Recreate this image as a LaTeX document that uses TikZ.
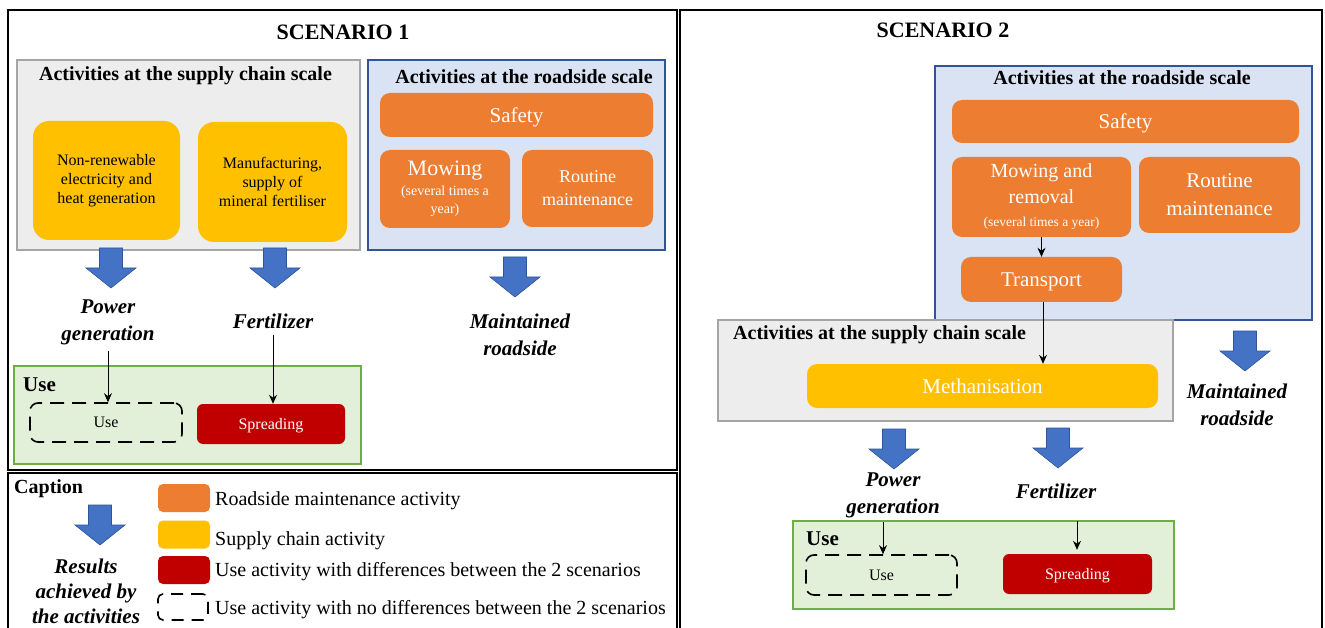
\documentclass[tikz,border=0pt]{standalone}
\usepackage{fontspec}
\setmainfont{Liberation Serif}
\usetikzlibrary{arrows.meta}
\definecolor{orng}{HTML}{ED7D31}
\definecolor{yell}{HTML}{FFC000}
\definecolor{redc}{HTML}{C00000}
\definecolor{grayf}{HTML}{EDEDED}
\definecolor{grayb}{HTML}{A5A5A5}
\definecolor{bluef}{HTML}{DAE3F3}
\definecolor{blueb}{HTML}{2F5597}
\definecolor{greenf}{HTML}{E2F0D9}
\definecolor{greenb}{HTML}{70AD47}
\definecolor{arrowblue}{HTML}{4472C4}
\definecolor{arrowdark}{HTML}{2F5597}
\tikzset{
  frame/.style={draw=black, line width=2pt},
  container/.style={inner sep=0pt, line width=1.5pt},
  scbox/.style={container, draw=grayb, fill=grayf},
  rsbox/.style={container, draw=blueb, fill=bluef},
  usebox/.style={container, draw=greenb, fill=greenf},
  orangebox/.style={fill=orng, rounded corners=10pt, text=white, inner sep=0pt, align=center},
  yellowbox/.style={fill=yell, rounded corners=16pt, text=black, inner sep=0pt, align=center, font=\fontsize{16}{19}\selectfont},
  redbox/.style={fill=redc, rounded corners=6pt, text=white, inner sep=0pt, text depth=0pt, font=\fontsize{16}{19}\selectfont},
  dashbox/.style={draw=black, dash pattern=on 14pt off 8pt, line width=1.6pt, rounded corners=8pt, inner sep=0pt, font=\fontsize{16}{19}\selectfont},
  boxtitle/.style={font=\bfseries\fontsize{20}{24}\selectfont, inner sep=0pt},
  scentitle/.style={font=\bfseries\fontsize{22}{26}\selectfont, inner sep=0pt},
  result/.style={font=\bfseries\itshape\fontsize{21}{27}\selectfont, align=center, inner sep=0pt},
  legendtext/.style={font=\fontsize{20}{24}\selectfont, anchor=base west, inner sep=0pt},
  thinarrow/.style={-{Stealth[length=9pt,width=8pt]}, line width=0.9pt},
  barrow/.pic={\filldraw[fill=arrowblue, draw=arrowdark, line width=0.6pt]
     (-11.5,0) -- (11.5,0) -- (11.5,20) -- (25,20) -- (0,40) -- (-25,20) -- (-11.5,20) -- cycle;}
}
\begin{document}
\begin{tikzpicture}[x=1pt,y=-1pt]
\useasboundingbox[fill=white] (0,0) rectangle (1325,628);
% frames
\draw[frame] (8,10) rectangle (677,470);
\draw[frame] (8,473) rectangle (677,640);
\draw[frame] (680,10) rectangle (1322,640);

% ---------------- SCENARIO 1 ----------------
\node[scentitle] (t1) at (343,32) {SCENARIO 1};
\node[scbox, minimum width=343pt, minimum height=190pt] (sc1) at (188.5,155) {};
\node[boxtitle] (sc1t) at (185.5,76) {Activities at the supply chain scale};
\node[yellowbox, minimum width=147pt, minimum height=119pt] (y1a) at (106.5,180.5)
  {Non-renewable\\electricity and\\heat generation};
\node[yellowbox, minimum width=149pt, minimum height=120pt] (y1b) at (272.5,182)
  {Manufacturing,\\supply of\\mineral fertiliser};

\node[rsbox, minimum width=297pt, minimum height=190pt] (rs1) at (516.5,155) {};
\node[boxtitle] (rs1t) at (524,77) {Activities at the roadside scale};
\node[orangebox, minimum width=273pt, minimum height=44pt, text depth=0pt, font=\fontsize{21}{24}\selectfont] (saf1) at (516.5,115) {Safety};
\node[orangebox, minimum width=130pt, minimum height=78pt, font=\fontsize{14}{18}\selectfont] (mow1) at (445,189)
  {{\fontsize{22}{22}\selectfont Mowing}\\[2pt](several times a\\year)};
\node[orangebox, minimum width=131pt, minimum height=77pt, font=\fontsize{18}{23}\selectfont] (rout1) at (587.5,188.5)
  {Routine\\maintenance};

\pic (ba1) at (111,248) {barrow};
\pic (ba2) at (275,248) {barrow};
\pic (ba3) at (515,257) {barrow};

\node[result] (pg1) at (108,322) {Power\\generation};
\node[result] (fe1) at (273,321) {Fertilizer};
\node[result] (mr1) at (520,335) {Maintained\\roadside};

\node[usebox, minimum width=347pt, minimum height=98pt] (use1) at (187.5,415) {};
\node[font=\bfseries\fontsize{21}{24}\selectfont, anchor=west, inner sep=0pt] (use1t) at (23,385) {Use};
\node[dashbox, minimum width=152pt, minimum height=39pt, text depth=0pt] (du1) at (106,422.5) {Use};
\node[redbox, minimum width=148pt, minimum height=40pt] (sp1) at (271,424) {Spreading};

\draw[thinarrow] ([yshift=-6pt]pg1.south) -- (pg1.south |- du1.north);
\draw[thinarrow] ([yshift=-6pt]fe1.south) -- (fe1.south |- sp1.north);

% ---------------- CAPTION ----------------
\node[font=\bfseries\fontsize{20}{24}\selectfont, anchor=west, inner sep=0pt] (capt) at (14,489) {Caption};
\pic (bac) at (100,505) {barrow};
\node[result, font=\bfseries\itshape\fontsize{21}{25}\selectfont] (res) at (86,591) {Results\\achieved by\\the activities};
\node[fill=orng, rounded corners=5pt, minimum width=52pt, minimum height=28pt, inner sep=0pt] (lg1) at (184,498) {};
\node[fill=yell, rounded corners=5pt, minimum width=52pt, minimum height=28pt, inner sep=0pt] (lg2) at (184,534.5) {};
\node[fill=redc, rounded corners=5pt, minimum width=52pt, minimum height=28pt, inner sep=0pt] (lg3) at (184,570) {};
\node[draw=black, dash pattern=on 12pt off 8pt, line width=1.6pt, rounded corners=5pt, minimum width=50pt, minimum height=26pt, inner sep=0pt] (lg4) at (183,607) {};
\node[legendtext] (lt1) at (215,505) {Roadside maintenance activity};
\node[legendtext] (lt2) at (215,545) {Supply chain activity};
\node[legendtext] (lt3) at (215,576) {Use activity with differences between the 2 scenarios};
\node[legendtext] (lt4) at (215,614) {Use activity with no differences between the 2 scenarios};

% ---------------- SCENARIO 2 ----------------
\node[scentitle] (t2) at (943,30) {SCENARIO 2};
\node[rsbox, minimum width=377pt, minimum height=254pt] (rs2) at (1123.5,193) {};
\node[boxtitle] (rs2t) at (1122,78) {Activities at the roadside scale};
\node[orangebox, minimum width=347pt, minimum height=43pt, text depth=0pt, font=\fontsize{21}{24}\selectfont] (saf2) at (1125.5,121.5) {Safety};
\node[orangebox, minimum width=179pt, minimum height=80pt, font=\fontsize{20}{26}\selectfont] (mow2) at (1041.5,197)
  {Mowing and\\removal\\[-3pt]{\fontsize{13.5}{16}\selectfont (several times a year)}};
\node[orangebox, minimum width=161pt, minimum height=76pt, font=\fontsize{21}{28}\selectfont] (rout2) at (1219.5,195)
  {Routine\\maintenance};
\node[orangebox, minimum width=161pt, minimum height=45pt, text depth=0pt, font=\fontsize{21}{24}\selectfont] (tr2) at (1041.5,279.5) {Transport};
\draw[thinarrow] (mow2.south) -- (mow2.south |- tr2.north);

\node[scbox, minimum width=455pt, minimum height=101pt] (sc2) at (945.5,370.5) {};
\node[boxtitle, anchor=west] (sc2t) at (733,335) {Activities at the supply chain scale};
\node[fill=yell, rounded corners=10pt, text=white, inner sep=0pt, text depth=0pt, minimum width=351pt, minimum height=44pt, font=\fontsize{21}{24}\selectfont] (meth) at (982.5,386) {Methanisation};
\draw[thinarrow] ([xshift=1.5pt]tr2.south) -- ([xshift=1.5pt]tr2.south |- meth.north);

\pic (bb1) at (894,429) {barrow};
\pic (bb2) at (1058,428) {barrow};
\pic (bb3) at (1245,331) {barrow};

\node[result] (pg2) at (893,495) {Power\\generation};
\node[result] (fe2) at (1056,491) {Fertilizer};
\node[result] (mr2) at (1237,405) {Maintained\\roadside};

\node[usebox, minimum width=381pt, minimum height=88pt] (use2) at (983.5,565) {};
\node[font=\bfseries\fontsize{21}{24}\selectfont, anchor=west, inner sep=0pt] (use2t) at (806,539) {Use};
\node[dashbox, minimum width=151pt, minimum height=40pt, text depth=0pt] (du2) at (881.5,575) {Use};
\node[redbox, minimum width=149pt, minimum height=40pt] (sp2) at (1077.5,574) {Spreading};
\coordinate (a2s) at (883,522);
\coordinate (f2s) at (1077,521);
\draw[thinarrow] (a2s) -- (a2s |- du2.north);
\draw[thinarrow] (f2s) -- ([yshift=4pt]f2s |- sp2.north);
\end{tikzpicture}
\end{document}
